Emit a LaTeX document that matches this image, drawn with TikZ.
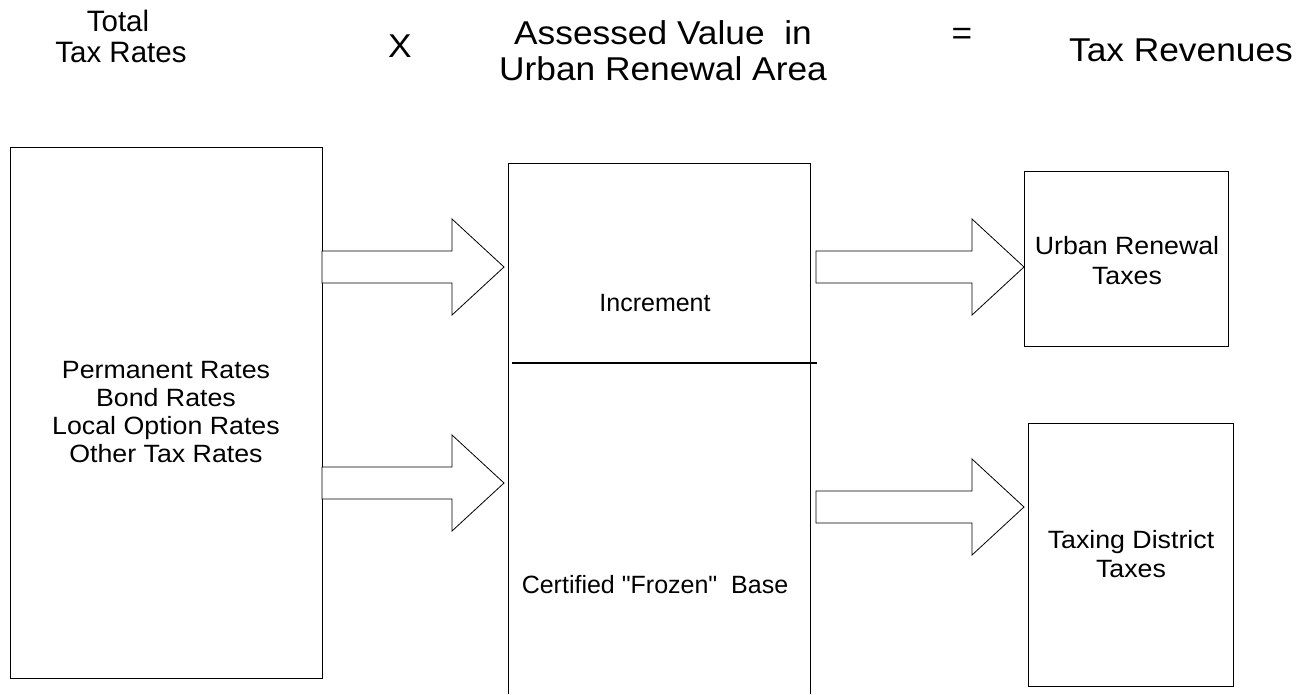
\documentclass[tikz,border=0pt]{standalone}
\usepackage{fontspec}
\setmainfont{Liberation Sans}
\newfontfamily\widefont[FakeStretch=1.07]{Liberation Sans}
\newfontfamily\boxfont[FakeStretch=1.07]{Liberation Sans}
\newcommand\blockarrow[4]{%
  \draw[barrow] (#1,#4-16) -- (#2,#4-16) -- (#2,#4-48) -- (#3,#4) -- (#2,#4+48) -- (#2,#4+16) -- (#1,#4+16) -- cycle;}
\begin{document}
\begin{tikzpicture}[x=1pt,y=-1pt,
  box/.style={draw, line width=1pt, inner sep=0pt, outer sep=0pt, align=center,
    font=\boxfont\fontsize{25}{28}\selectfont},
  hdr/.style={font=\widefont\fontsize{33}{36}\selectfont, anchor=base, inner sep=0pt},
  shdr/.style={hdr, font=\fontsize{29.5}{33}\selectfont},
  lbl/.style={font=\fontsize{25}{28}\selectfont, anchor=base, inner sep=0pt, align=center},
  wlbl/.style={lbl, font=\boxfont\fontsize{25}{28}\selectfont},
  barrow/.style={draw, line width=0.8pt, fill=white, line join=miter}]
\useasboundingbox[fill=white] (0,0) rectangle (1305,694);
% headers
\node[shdr] (total) at (118,31) {Total};
\node[shdr] (taxrates) at (121,62) {Tax Rates};
\node[hdr] (times) at (400,57) {X};
\node[hdr] (assessed) at (663,44) {Assessed Value\ \ in};
\node[hdr] (urbanarea) at (663,80) {Urban Renewal Area};
\node[hdr] (equals) at (962,44) {=};
\node[hdr] (revenues) at (1181,61) {Tax Revenues};
% left box
\node[box, minimum width=312pt, minimum height=531pt] (rates) at (166,412.5)
  {Permanent Rates\\Bond Rates\\Local Option Rates\\Other Tax Rates};
% middle (open) box
\coordinate (mbl) at (508,694);
\coordinate (mtl) at (508,163);
\coordinate (mtr) at (810,163);
\coordinate (mbr) at (810,694);
\draw[line width=1pt] (mbl) -- (mtl) -- (mtr) -- (mbr);
\coordinate (incl) at (512,363);
\coordinate (incr) at (817,363);
\draw[line width=1.6pt] (incl) -- (incr);
\node[lbl] (increment) at (655,311) {Increment};
\node[lbl] (frozen) at (655,593) {Certified \textquotedbl Frozen\textquotedbl\ \ Base};
% right boxes
\node[box, minimum width=204pt, minimum height=175pt] (urtax) at (1126,258.5) {};
\node[wlbl] (urtaxa) at (1127,254) {Urban Renewal};
\node[wlbl] (urtaxb) at (1127,284) {Taxes};
\node[box, minimum width=205pt, minimum height=263pt] (tdtax) at (1130.5,554.5) {};
\node[wlbl] (tdtaxa) at (1131,548) {Taxing District};
\node[wlbl] (tdtaxb) at (1131,577) {Taxes};
% block arrows
\blockarrow{322}{452}{504}{267}
\blockarrow{322}{452}{504}{483}
\blockarrow{816}{972}{1024}{267}
\blockarrow{816}{972}{1024}{507}
\end{tikzpicture}
\end{document}
